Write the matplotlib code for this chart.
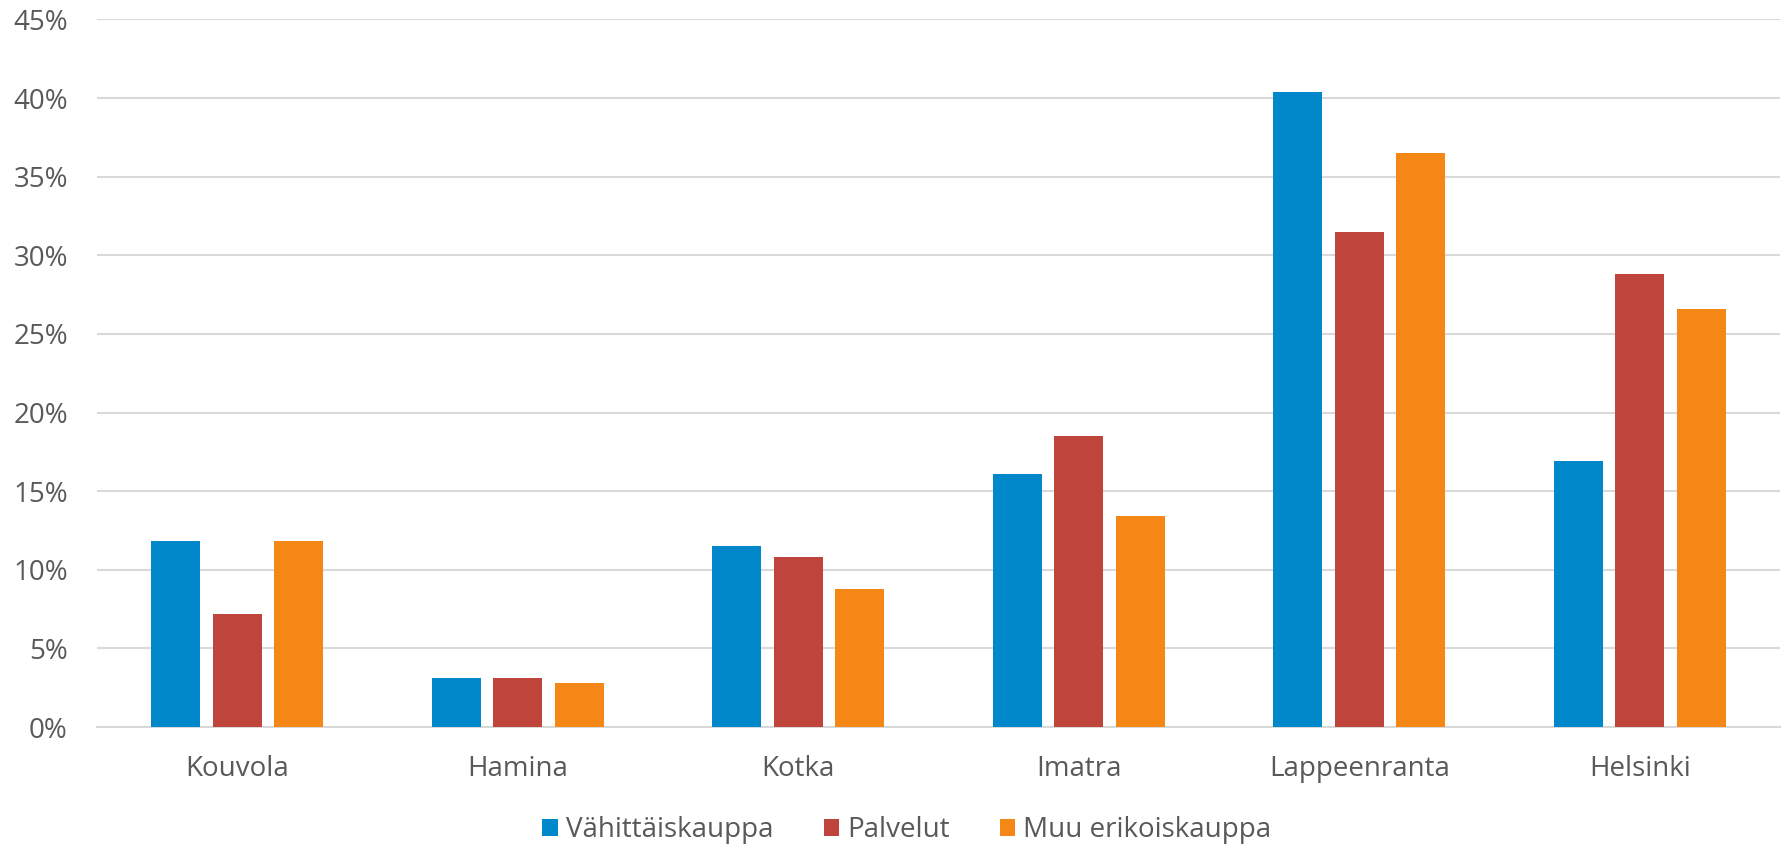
import numpy as np
import matplotlib
matplotlib.use("Agg")
import matplotlib.pyplot as plt
from matplotlib.ticker import FuncFormatter

# data (percent)
cities = ["Kouvola", "Hamina", "Kotka", "Imatra", "Lappeenranta", "Helsinki"]
series_names = ["Vähittäiskauppa", "Palvelut", "Muu erikoiskauppa"]
vahittais = [11.8, 3.1, 11.5, 16.1, 40.4, 16.9]
palvelut = [7.2, 3.1, 10.8, 18.5, 31.5, 28.8]
muu_erikois = [11.8, 2.8, 8.8, 13.4, 36.5, 26.6]
colors = ["#0088CB", "#BF453C", "#F58716"]

plt.rcParams['font.family'] = ['Open Sans', 'DejaVu Sans']
text_color = '#595959'

fig = plt.figure(figsize=(17.85, 8.46), dpi=100)
ax = fig.add_axes([97 / 1785, 1 - 727 / 846, (1780 - 97) / 1785, (727 - 19.5) / 846])

x = np.arange(len(cities))
width = 0.175
step = 0.219
for i, (vals, name) in enumerate(zip([vahittais, palvelut, muu_erikois], series_names)):
    ax.bar(x + (i - 1) * step, vals, width, color=colors[i], label=name, zorder=3)

ax.set_xlim(-0.5, len(cities) - 0.5)
ax.set_ylim(0, 45)
ax.set_yticks(np.arange(0, 46, 5))
ax.yaxis.set_major_formatter(FuncFormatter(lambda v, p: f"{v:.0f}%"))
ax.set_xticks(x)
ax.set_xticklabels(cities)

ax.grid(axis='y', color='#D9D9D9', linewidth=1.5, zorder=0)
for s in ['top', 'right', 'left']:
    ax.spines[s].set_visible(False)
ax.spines['bottom'].set_color('#D9D9D9')
ax.spines['bottom'].set_linewidth(1.5)
ax.tick_params(axis='both', length=0, labelsize=20, colors=text_color)
ax.tick_params(axis='y', pad=21)
ax.tick_params(axis='x', pad=20)

fig.legend(loc='center', bbox_to_anchor=(907 / 1785, 1 - 830 / 846), ncol=3,
           frameon=False, fontsize=20, labelcolor=text_color,
           handlelength=0.55, handleheight=0.55, handletextpad=0.3,
           columnspacing=1.8)

fig.savefig("out.png", dpi=100)
